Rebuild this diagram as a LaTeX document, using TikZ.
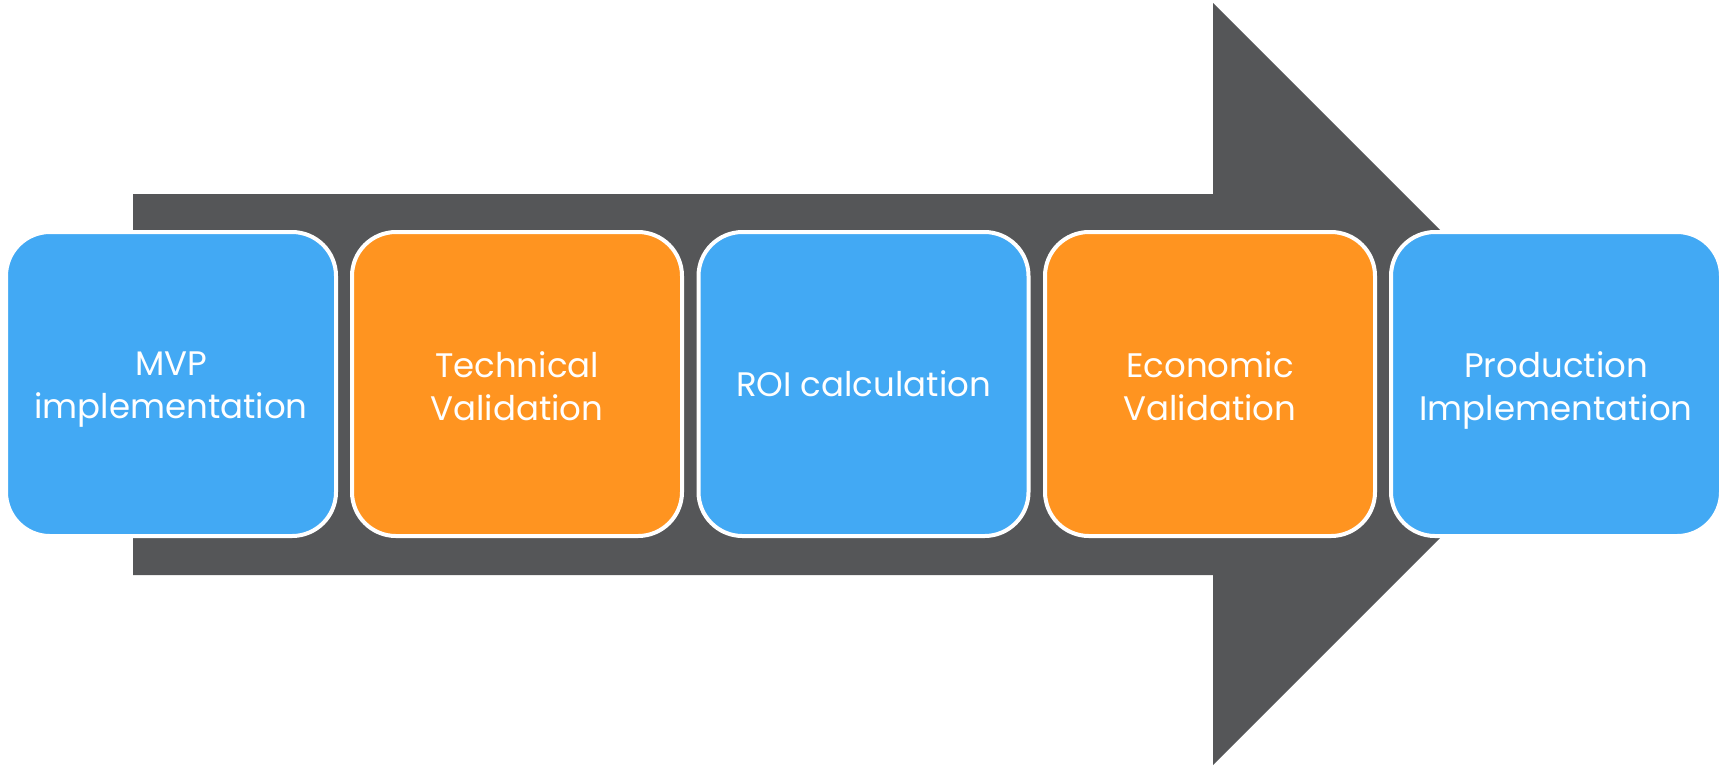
\documentclass[tikz,border=0pt]{standalone}
\usepackage{fontspec}
\setmainfont{Poppins}
\definecolor{arrowgray}{RGB}{85,86,88}
\definecolor{stepblue}{RGB}{66,169,244}
\definecolor{steporange}{RGB}{255,148,32}
\tikzset{
  stagebox/.style={draw=white, line width=2pt, rounded corners=22pt,
    minimum width=165pt, minimum height=152pt, inner sep=0pt},
  bluebox/.style={stagebox, fill=stepblue},
  orangebox/.style={stagebox, fill=steporange},
  stagetext/.style={text=white, align=center, inner sep=0pt,
    font=\fontsize{17pt}{21.5pt}\selectfont}
}
\begin{document}
\begin{tikzpicture}[x=0.5pt,y=-0.5pt]
\useasboundingbox (0,0) rectangle (1723,768);
\fill[arrowgray] (133,194) -- (1213,194) -- (1213,3) -- (1594,384)
  -- (1213,765) -- (1213,575) -- (133,575) -- cycle;
\node[bluebox]   (b1) at (171,384)   {};
\node[orangebox] (b2) at (517,384)   {};
\node[bluebox]   (b3) at (863.5,384) {};
\node[orangebox] (b4) at (1210,384)  {};
\node[bluebox]   (b5) at (1556,384)  {};
\node[stagetext, yshift=-3pt] (t1) at (b1) {MVP\\implementation};
\node[stagetext, yshift=-1pt] (t2) at (b2) {Technical\\Validation};
\node[stagetext]              (t3) at (b3) {ROI calculation};
\node[stagetext, yshift=-1pt] (t4) at (b4) {Economic\\Validation};
\node[stagetext, yshift=-3pt] (t5) at (b5) {Production\\Implementation};
\end{tikzpicture}
\end{document}
